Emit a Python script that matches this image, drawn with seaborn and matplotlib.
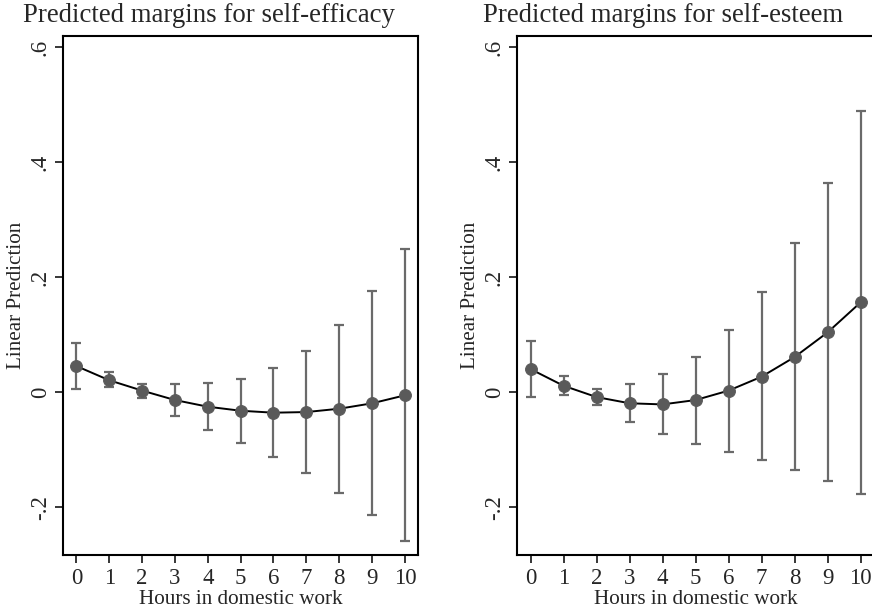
import numpy as np
import pandas as pd
import matplotlib
matplotlib.use("Agg")
import matplotlib.pyplot as plt
import seaborn as sns

hours = [0, 1, 2, 3, 4, 5, 6, 7, 8, 9, 10]

efficacy_mean = [0.0457, 0.021, 0.003, -0.0134, -0.025, -0.032, -0.0354, -0.0343, -0.0285, -0.0191, -0.0052]
efficacy_lo = [0.005, 0.0087, -0.0104, -0.0412, -0.0656, -0.0887, -0.112, -0.1403, -0.1746, -0.214, -0.259]
efficacy_hi = [0.086, 0.035, 0.0144, 0.0139, 0.016, 0.0237, 0.0417, 0.0724, 0.118, 0.177, 0.250]

esteem_mean = [0.0405, 0.0115, -0.0082, -0.019, -0.021, -0.0134, 0.003, 0.0272, 0.0614, 0.1043, 0.1565]
esteem_lo = [-0.0077, -0.0052, -0.022, -0.0517, -0.073, -0.0894, -0.104, -0.118, -0.135, -0.155, -0.177]
esteem_hi = [0.0887, 0.029, 0.0063, 0.0144, 0.0324, 0.062, 0.109, 0.1744, 0.259, 0.364, 0.489]

titles = ["Predicted margins for self-efficacy", "Predicted margins for self-esteem"]
y_ticks = [-0.2, 0, 0.2, 0.4, 0.6]
y_ticklabels = ["-.2", "0", ".2", ".4", ".6"]
x_label = "Hours in domestic work"
y_label = "Linear Prediction"

sns.set_theme(style="white")
plt.rcParams["font.family"] = ["Liberation Serif", "DejaVu Serif"]

W, H = 872, 610
fig = plt.figure(figsize=(W / 100, H / 100), dpi=100)

panels = [
    (efficacy_mean, efficacy_lo, efficacy_hi, 63.3, 354.7, 23),
    (esteem_mean, esteem_lo, esteem_hi, 517.3, 356.5, 483),
]

for i, (mean, lo, hi, left_px, width_px, title_x) in enumerate(panels):
    ax = fig.add_axes([left_px / W, (H - 555) / H, width_px / W, (555 - 36) / H])
    df = pd.DataFrame({"hours": hours, "mean": mean, "lo": lo, "hi": hi})
    m = np.array(mean)
    yerr = np.vstack([m - np.array(lo), np.array(hi) - m])
    ax.errorbar(df["hours"], df["mean"], yerr=yerr, fmt="none", ecolor="#6a6a6a",
                elinewidth=1.6, capsize=3.8, capthick=1.6, zorder=2)
    sns.lineplot(data=df, x="hours", y="mean", ax=ax, color="black", linewidth=1.4,
                 marker="o", markersize=8.5, markerfacecolor="#5a5a5a",
                 markeredgecolor="#5a5a5a", zorder=3)
    ax.set_xlim(-0.4, 10.4)
    ax.set_ylim(-0.283, 0.62)
    ax.set_xticks(hours)
    ax.set_xticklabels([str(h) for h in hours], fontsize=16.5)
    ax.set_yticks(y_ticks)
    ax.set_yticklabels(y_ticklabels, fontsize=16.5, rotation=90, va="center")
    ax.set_xlabel(x_label, fontsize=15.2, labelpad=1)
    ax.set_ylabel(y_label, fontsize=15.2, labelpad=3)
    ax.tick_params(axis="both", direction="out", length=6, width=1.1, color="black",
                   bottom=True, left=True, pad=3)
    for s in ax.spines.values():
        s.set_color("black")
        s.set_linewidth(1.5)
    if i == 1:
        ax.spines["right"].set_visible(False)
    ax.grid(False)
    fig.text(title_x / W, 1 - 3 / H, titles[i], fontsize=19.3, ha="left", va="top")

fig.savefig("out.png", dpi=100)
